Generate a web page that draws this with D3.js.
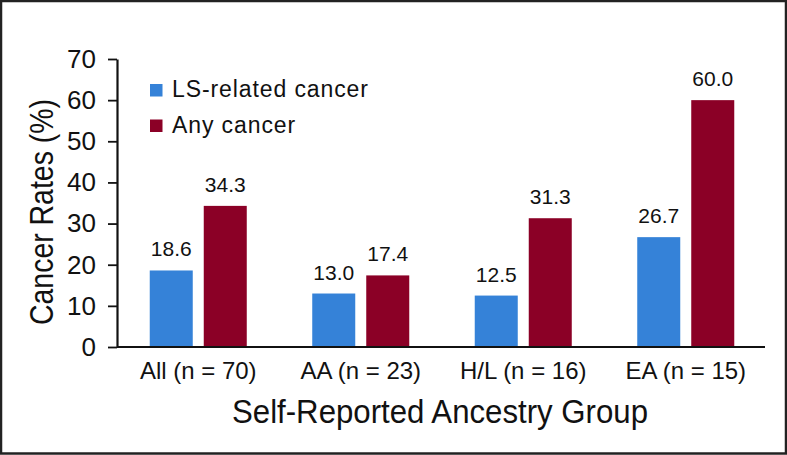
<!DOCTYPE html>
<html>
<head>
<meta charset="utf-8">
<script src="https://cdn.jsdelivr.net/npm/d3@7"></script>
<style>
  html, body { margin: 0; padding: 0; background: #fff; }
  svg { display: block; }
</style>
</head>
<body>
<svg id="chart" width="787" height="455"></svg>
<script>
const categories = ["All (n = 70)", "AA (n = 23)", "H/L (n = 16)", "EA (n = 15)"];
const seriesNames = ["LS-related cancer", "Any cancer"];
const lsRelated = [18.6, 13.0, 12.5, 26.7];
const anyCancer = [34.3, 17.4, 31.3, 60.0];
const yTicks = [0, 10, 20, 30, 40, 50, 60, 70];
const colors = ["#3582d8", "#8b0026"];

const svg = d3.select("#chart");
const W = 787, H = 455;
const plot = { left: 117, right: 767, top: 59, bottom: 347 };
const narrow = "'Liberation Sans Narrow', 'Arial Narrow', 'Liberation Sans', Arial, sans-serif";
const sans = "'Liberation Sans', Arial, Helvetica, sans-serif";

svg.append("rect").attr("width", W).attr("height", H).attr("fill", "#fff");
svg.append("rect")
  .attr("x", 1).attr("y", 1).attr("width", 785).attr("height", 452.5)
  .attr("fill", "none").attr("stroke", "#222").attr("stroke-width", 2.5);

const x0 = d3.scaleBand().domain(categories)
  .range([plot.left, plot.right]).paddingInner(0.403).paddingOuter(0.2015);
const x1 = d3.scaleBand().domain(seriesNames)
  .range([0, x0.bandwidth()]).paddingInner(11 / 54).paddingOuter(0);
const y = d3.scaleLinear().domain([0, 70]).range([plot.bottom, plot.top]);

const rows = categories.map((c, i) => ({ cat: c, vals: [lsRelated[i], anyCancer[i]] }));

// bars
const g = svg.append("g");
const grp = g.selectAll("g.grp").data(rows).enter().append("g")
  .attr("transform", d => `translate(${x0(d.cat)},0)`);
grp.selectAll("rect").data(d => d.vals.map((v, j) => ({ s: seriesNames[j], v, j })))
  .enter().append("rect")
  .attr("x", d => x1(d.s)).attr("width", x1.bandwidth())
  .attr("y", d => y(d.v)).attr("height", d => y(0) - y(d.v))
  .attr("fill", d => colors[d.j]);
grp.selectAll("text").data(d => d.vals.map((v, j) => ({ s: seriesNames[j], v, j })))
  .enter().append("text")
  .attr("x", d => x1(d.s) + x1.bandwidth() / 2)
  .attr("y", d => y(d.v) - 14)
  .attr("text-anchor", "middle")
  .style("font-family", sans).style("font-size", "21px").attr("fill", "#111")
  .text(d => d.v.toFixed(1));

// y axis
const yAxis = d3.axisLeft(y).tickValues(yTicks).tickSize(9).tickSizeOuter(0).tickPadding(12)
  .tickFormat(d3.format("d"));
const ya = svg.append("g").attr("transform", `translate(${plot.left},0)`).call(yAxis);
ya.select(".domain").attr("stroke", "#111").attr("stroke-width", 2.2);
ya.selectAll(".tick line").attr("stroke", "#111").attr("stroke-width", 1.8);
ya.selectAll(".tick text").style("font-family", narrow).style("font-size", "26px").attr("fill", "#111");

// x axis
const xAxis = d3.axisBottom(x0).tickSize(0).tickSizeOuter(0).tickPadding(0);
const xa = svg.append("g").attr("transform", `translate(0,${plot.bottom})`).call(xAxis);
xa.select(".domain").attr("stroke", "#111").attr("stroke-width", 2.2)
  .attr("d", `M${plot.left},0H${765}`);
xa.selectAll(".tick text").attr("dy", null).attr("y", 32)
  .style("font-family", sans).style("font-size", "24px").attr("fill", "#111");

// axis titles
svg.append("text")
  .attr("transform", `translate(53,212) rotate(-90)`)
  .attr("text-anchor", "middle")
  .style("font-family", sans).style("font-size", "34px").attr("fill", "#111")
  .attr("textLength", 226).attr("lengthAdjust", "spacingAndGlyphs")
  .text("Cancer Rates (%)");
svg.append("text")
  .attr("x", 440).attr("y", 423)
  .attr("text-anchor", "middle")
  .style("font-family", sans).style("font-size", "34px").attr("fill", "#111")
  .attr("textLength", 416).attr("lengthAdjust", "spacingAndGlyphs")
  .text("Self-Reported Ancestry Group");

// legend
const leg = svg.append("g").selectAll("g").data(seriesNames).enter().append("g")
  .attr("transform", (d, i) => `translate(150,${84 + i * 35.5})`);
leg.append("rect").attr("width", 12.5).attr("height", 12.5).attr("fill", (d, i) => colors[i]);
leg.append("text").attr("x", 22).attr("y", 13)
  .style("font-family", sans).style("font-size", "23px").style("letter-spacing", "0.9px")
  .attr("fill", "#111").text(d => d);
</script>
</body>
</html>
